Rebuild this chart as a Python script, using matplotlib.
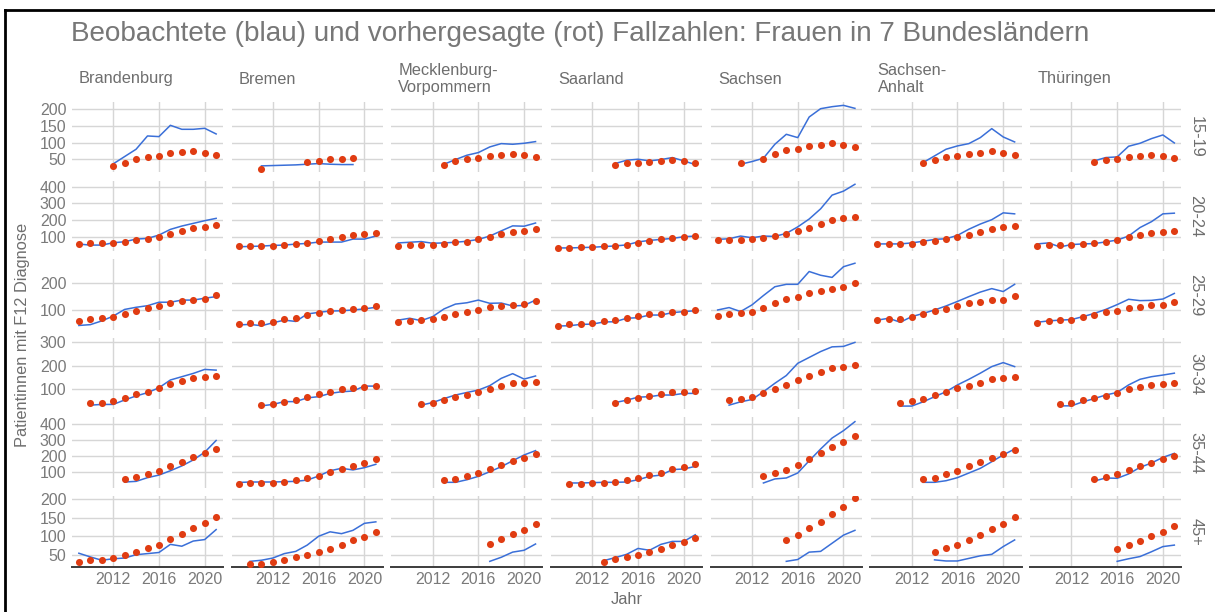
import numpy as np
import matplotlib
matplotlib.use("Agg")
import matplotlib.pyplot as plt
from matplotlib.lines import Line2D

plt.rcParams['font.family'] = ['Liberation Sans', 'DejaVu Sans']

NA = None

states = ["Brandenburg", "Bremen", "Mecklenburg-\nVorpommern", "Saarland",
          "Sachsen", "Sachsen-\nAnhalt", "Thüringen"]
ages = ["15-19", "20-24", "25-29", "30-34", "35-44", "45+"]

# first year of each series, per age group (order of states)
start_15_19 = [2012, 2011, 2013, 2014, 2011, 2013, 2014]
start_20_24 = [2009, 2009, 2009, 2009, 2009, 2009, 2009]
start_25_29 = [2009, 2009, 2009, 2009, 2009, 2009, 2009]
start_30_34 = [2010, 2011, 2011, 2014, 2010, 2011, 2011]
start_35_44 = [2013, 2009, 2013, 2010, 2013, 2013, 2014]
start_45p   = [2009, 2010, 2017, 2013, 2015, 2014, 2016]

# observed (blue)
obs_15_19 = [
    [36, 58, 80, 120, 118, 152, 140, 140, 143, 126],
    [30, 31, 32, 33, 35, 37, 35, 34, 34],
    [35, 49, 62, 70, 87, 97, 95, 98, 103],
    [37, 47, 50, 45, 49, 55, 45, 34],
    [35, 43, 53, 95, 125, 115, 177, 202, 208, 212, 203],
    [40, 60, 80, 90, 97, 115, 142, 117, 102],
    [45, 55, 57, 89, 98, 112, 123, 99],
]
obs_20_24 = [
    [56, 50, 50, 64, 70, 86, 90, 110, 144, 164, 180, 196, 210],
    [40, 42, 44, 48, 50, 56, 60, 68, 68, 68, 86, 86, 104],
    [63, 67, 71, 61, 63, 67, 73, 84, 104, 135, 165, 163, 182],
    [33, 33, 35, 37, 41, 45, 51, 69, 78, 84, 90, 100, 104],
    [84, 88, 104, 94, 104, 102, 120, 159, 206, 267, 349, 373, 414],
    [57, 57, 57, 63, 73, 84, 88, 108, 145, 176, 202, 243, 237],
    [57, 63, 39, 53, 57, 59, 69, 80, 104, 155, 190, 237, 241],
]
obs_25_29 = [
    [42, 45, 59, 77, 102, 110, 116, 129, 129, 137, 137, 144, 150],
    [44, 46, 41, 52, 62, 57, 85, 91, 96, 97, 100, 104, 110],
    [62, 69, 60, 75, 104, 122, 127, 137, 125, 126, 115, 117, 137],
    [40, 41, 46, 47, 55, 56, 69, 71, 81, 81, 90, 94, 97],
    [100, 109, 94, 119, 154, 187, 196, 196, 244, 230, 222, 262, 275],
    [62, 69, 54, 75, 87, 100, 115, 132, 150, 167, 180, 169, 196],
    [54, 59, 62, 64, 75, 87, 102, 120, 140, 135, 136, 141, 162],
]
obs_30_34 = [
    [33, 36, 36, 55, 72, 86, 107, 140, 154, 168, 185, 182],
    [30, 36, 48, 48, 64, 69, 83, 90, 93, 114, 114],
    [33, 44, 61, 76, 87, 97, 116, 147, 167, 144, 157],
    [44, 54, 67, 69, 76, 76, 83, 83],
    [33, 47, 57, 90, 126, 159, 211, 236, 261, 281, 283, 300],
    [29, 29, 47, 69, 90, 119, 143, 169, 197, 214, 197],
    [30, 30, 47, 61, 76, 87, 119, 143, 154, 161, 169],
]
obs_35_44 = [
    [40, 44, 67, 83, 110, 140, 177, 225, 298],
    [37, 40, 40, 40, 42, 44, 52, 77, 110, 125, 115, 129, 150],
    [38, 38, 54, 75, 104, 135, 172, 208, 235],
    [34, 34, 36, 38, 38, 40, 54, 75, 83, 117, 121, 137],
    [34, 59, 65, 96, 172, 245, 313, 359, 415],
    [38, 38, 48, 67, 96, 125, 166, 208, 245],
    [46, 65, 63, 90, 131, 158, 193, 218],
]
obs_45p = [
    [54, 44, 35, 39, 41, 50, 53, 56, 78, 73, 87, 91, 118],
    [32, 35, 41, 53, 59, 76, 100, 112, 107, 116, 135, 139],
    [32, 43, 57, 62, 79],
    [34, 42, 51, 67, 62, 78, 86, 86, 104],
    [32, 37, 57, 59, 81, 103, 116],
    [36, 33, 33, 40, 47, 51, 72, 90],
    [32, 39, 45, 58, 72, 76],
]

# predicted (red)
pred_15_19 = [
    [30, 38, 50, 58, 61, 68, 72, 75, 70, 64],
    [20, NA, NA, NA, 43, 45, 50, 52, 55],
    [34, 45, 51, 53, 59, 62, 66, 62, 56],
    [32, 38, 40, 43, 45, 48, 45, 40],
    [38, NA, 52, 67, 78, 82, 89, 94, 99, 93, 86],
    [38, 49, 57, 60, 67, 70, 74, 70, 63],
    [42, 49, 50, 56, 59, 62, 59, 54],
]
pred_20_24 = [
    [58, 60, 60, 64, 70, 80, 86, 100, 118, 134, 150, 160, 168],
    [44, 46, 46, 46, 52, 58, 64, 74, 84, 100, 112, 118, 124],
    [47, 51, 53, 53, 59, 67, 71, 84, 100, 116, 129, 135, 145],
    [33, 35, 37, 37, 43, 47, 53, 63, 73, 84, 94, 100, 104],
    [78, 80, 82, 84, 94, 104, 114, 133, 155, 176, 200, 210, 220],
    [57, 59, 57, 59, 67, 73, 84, 96, 112, 129, 149, 157, 163],
    [47, 49, 49, 51, 57, 61, 69, 80, 96, 110, 122, 129, 135],
]
pred_25_29 = [
    [60, 66, 69, 72, 84, 95, 106, 115, 127, 132, 139, 142, 155],
    [46, 50, 52, 56, 65, 71, 81, 87, 95, 100, 105, 109, 115],
    [56, 60, 62, 66, 75, 85, 94, 100, 110, 115, 120, 122, 135],
    [41, 46, 49, 51, 59, 62, 71, 76, 84, 85, 91, 92, 100],
    [79, 85, 90, 94, 109, 125, 140, 150, 165, 171, 179, 185, 200],
    [61, 66, 67, 72, 85, 95, 105, 114, 125, 130, 136, 139, 154],
    [52, 59, 61, 64, 72, 82, 91, 97, 107, 111, 117, 120, 130],
]
pred_30_34 = [
    [40, 43, 50, 65, 79, 91, 107, 121, 134, 148, 151, 157],
    [33, 38, 48, 57, 69, 79, 90, 100, 107, 111, 114],
    [36, 43, 54, 66, 76, 90, 101, 114, 126, 126, 133],
    [44, 54, 64, 71, 80, 87, 90, 94],
    [54, 59, 66, 83, 101, 119, 140, 157, 176, 193, 197, 204],
    [40, 50, 61, 76, 87, 104, 116, 129, 143, 147, 151],
    [36, 40, 53, 64, 74, 86, 100, 110, 119, 123, 127],
]
pred_35_44 = [
    [56, 69, 90, 108, 140, 165, 198, 219, 248],
    [25, 31, 33, 35, 42, 52, 62, 79, 100, 121, 142, 160, 181],
    [52, 61, 79, 96, 121, 146, 168, 187, 214],
    [25, 28, 32, 36, 42, 52, 65, 83, 98, 121, 131, 152],
    [79, 96, 117, 148, 183, 218, 255, 286, 324],
    [57, 67, 90, 108, 137, 162, 189, 214, 239],
    [57, 73, 92, 114, 137, 160, 181, 203],
]
pred_45p = [
    [30, 35, 37, 42, 48, 58, 68, 77, 92, 105, 121, 135, 153],
    [24, 26, 30, 36, 44, 50, 57, 66, 76, 89, 98, 112],
    [79, 92, 106, 118, 132],
    [31, 38, 43, 48, 58, 66, 75, 84, 96],
    [90, 104, 121, 139, 161, 179, 203],
    [58, 67, 76, 90, 103, 120, 132, 151],
    [65, 76, 87, 100, 112, 127],
]

row_starts = [start_15_19, start_20_24, start_25_29, start_30_34, start_35_44, start_45p]
row_obs = [obs_15_19, obs_20_24, obs_25_29, obs_30_34, obs_35_44, obs_45p]
row_pred = [pred_15_19, pred_20_24, pred_25_29, pred_30_34, pred_35_44, pred_45p]

row_yticks = [[50, 100, 150, 200], [100, 200, 300, 400], [100, 200],
              [100, 200, 300], [100, 200, 300, 400], [50, 100, 150, 200]]
row_ylims = [(11, 223), (14, 436), (25, 289), (17, 317), (4, 442), (17.5, 208.5)]
xticks = [2012, 2016, 2020]
xlim = (2008.4, 2021.6)

BLUE = "#3a6fd8"
RED = "#e03c12"
GRID = "#d6d6d6"
TXT = "#7a7a7a"
STRIP = "#6e6e6e"

W, H = 1215, 612
fig = plt.figure(figsize=(W / 100, H / 100), dpi=100)
fig.patch.set_facecolor("white")

col_l0, col_w, col_step = 72, 151, 159.7
row_t0, row_h, row_step = 101.7, 70.5, 78.9


def to_float(v):
    return [np.nan if x is None else float(x) for x in v]


for r in range(len(ages)):
    for c in range(len(states)):
        left = col_l0 + c * col_step
        top = row_t0 + r * row_step
        ax = fig.add_axes([left / W, 1 - (top + row_h) / H, col_w / W, row_h / H])
        s0 = row_starts[r][c]
        o = to_float(row_obs[r][c])
        p = to_float(row_pred[r][c])
        ax.plot(np.arange(s0, s0 + len(o)), o, color=BLUE, lw=1.1, zorder=3,
                solid_joinstyle="round")
        ax.plot(np.arange(s0, s0 + len(p)), p, "o", color=RED, ms=5.1,
                mec="none", zorder=4)
        ax.set_xlim(*xlim)
        ax.set_ylim(*row_ylims[r])
        ax.set_xticks(xticks)
        ax.set_yticks(row_yticks[r])
        ax.grid(True, color=GRID, lw=1.0)
        ax.set_axisbelow(True)
        for sp in ax.spines.values():
            sp.set_visible(False)
        ax.tick_params(length=0, labelsize=11.5, labelcolor=TXT, pad=4)
        if r == len(ages) - 1:
            ax.spines["bottom"].set_visible(True)
            ax.spines["bottom"].set_color("#3c3c3c")
            ax.spines["bottom"].set_linewidth(1.4)
        else:
            ax.tick_params(labelbottom=False)
        if c != 0:
            ax.tick_params(labelleft=False)
        ax.set_facecolor("white")

# column strip labels
for c, st in enumerate(states):
    left = col_l0 + c * col_step
    fig.text((left + 7) / W, 1 - 79 / H, st, ha="left", va="center",
             fontsize=11.8, color=STRIP, linespacing=1.15)

# row strip labels
for r, age in enumerate(ages):
    cy = row_t0 + r * row_step + row_h / 2
    fig.text(1196 / W, 1 - cy / H, age, ha="center", va="center",
             rotation=270, fontsize=11.8, color=STRIP)

fig.text(71 / W, 1 - 41 / H,
         "Beobachtete (blau) und vorhergesagte (rot) Fallzahlen: Frauen in 7 Bundesländern",
         ha="left", va="baseline", fontsize=20.1, color="#777777")
fig.text(23 / W, 1 - 335 / H, "Patientinnen mit F12 Diagnose", rotation=90,
         ha="center", va="center", fontsize=11.8, color=STRIP)
fig.text(627 / W, 1 - 600 / H, "Jahr", ha="center", va="center",
         fontsize=11.8, color=STRIP)

# frame (screenshot border: left and top)
fig.add_artist(Line2D([5 / W, 5 / W], [0, 1 - 10 / H], color="black", lw=2,
                      transform=fig.transFigure))
fig.add_artist(Line2D([5 / W, 1], [1 - 10 / H, 1 - 10 / H], color="black", lw=2,
                      transform=fig.transFigure))

fig.savefig("out.png", dpi=100, facecolor="white")
